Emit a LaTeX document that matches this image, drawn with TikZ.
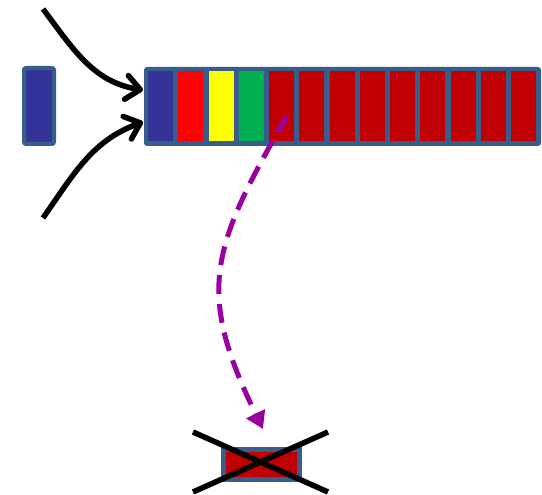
\documentclass[tikz,border=0pt]{standalone}
\usepackage{tikz}
\usetikzlibrary{positioning,arrows.meta}
\definecolor{frame}{RGB}{56,93,138}
\definecolor{qblue}{RGB}{51,51,153}
\definecolor{qred}{RGB}{255,0,0}
\definecolor{qyellow}{RGB}{255,255,0}
\definecolor{qgreen}{RGB}{0,176,80}
\definecolor{qdark}{RGB}{192,0,0}
\definecolor{qpurple}{RGB}{153,0,160}

\begin{document}
\begin{tikzpicture}[x=1pt,y=1pt,node distance=30.25pt,on grid,
  slot/.style={rectangle,inner sep=0pt,minimum width=25pt,minimum height=70pt},
  push/.style={line width=5.5pt,-{Straight Barb[length=14pt,width=24pt,round]}},
  evict/.style={qpurple,line width=5pt,dash pattern=on 19pt off 10pt,-{Triangle[length=17pt,width=20pt]}}]
\useasboundingbox (0,0) rectangle (542,495);

\node[fill=frame,rounded corners=3pt,minimum width=397pt,minimum height=79pt] (bar) at (342.5,388.5) {};
\node[slot,fill=qblue] (c1) at (160.5,389) {};
\node[slot,fill=qred] (c2) [right=of c1] {};
\node[slot,fill=qyellow] (c3) [right=of c2] {};
\node[slot,fill=qgreen] (c4) [right=of c3] {};
\node[slot,fill=qdark] (c5) [right=of c4] {};
\node[slot,fill=qdark] (c6) [right=of c5] {};
\node[slot,fill=qdark] (c7) [right=of c6] {};
\node[slot,fill=qdark] (c8) [right=of c7] {};
\node[slot,fill=qdark] (c9) [right=of c8] {};
\node[slot,fill=qdark] (c10) [right=of c9] {};
\node[slot,fill=qdark] (c11) [right=of c10] {};
\node[slot,fill=qdark] (c12) [right=of c11] {};
\node[slot,fill=qdark] (c13) [right=of c12] {};

\node[slot,fill=qblue,draw=frame,line width=4pt,rounded corners=2pt,
  minimum width=30pt,minimum height=76pt] (c0) at (39,389) {};

\node[slot,fill=qdark,draw=frame,line width=5pt,
  minimum width=76pt,minimum height=30pt] (gone) at (261,30.5) {};

\coordinate (s1) at (43,486);
\coordinate (s2) at (43,277);
\coordinate (t1) at (143,405);
\coordinate (t2) at (143,373);
\coordinate (drop) at ([shift={(5.5,-10)}]c5.center);
\coordinate (land) at (263,66);
\coordinate (k1) at (193,63);
\coordinate (k2) at (328,3);
\coordinate (k3) at (193,3);
\coordinate (k4) at (328,63);

\path
(s1) edge [push, out=-53, in=171] (t1)
(s2) edge [push, out=55, in=200] (t2)

(drop) edge [evict, out=240, in=116, looseness=1.25] (land)

(k1) edge [line width=5.5pt] (k2)
(k3) edge [line width=5.5pt] (k4)
; %end path
\end{tikzpicture}
\end{document}
